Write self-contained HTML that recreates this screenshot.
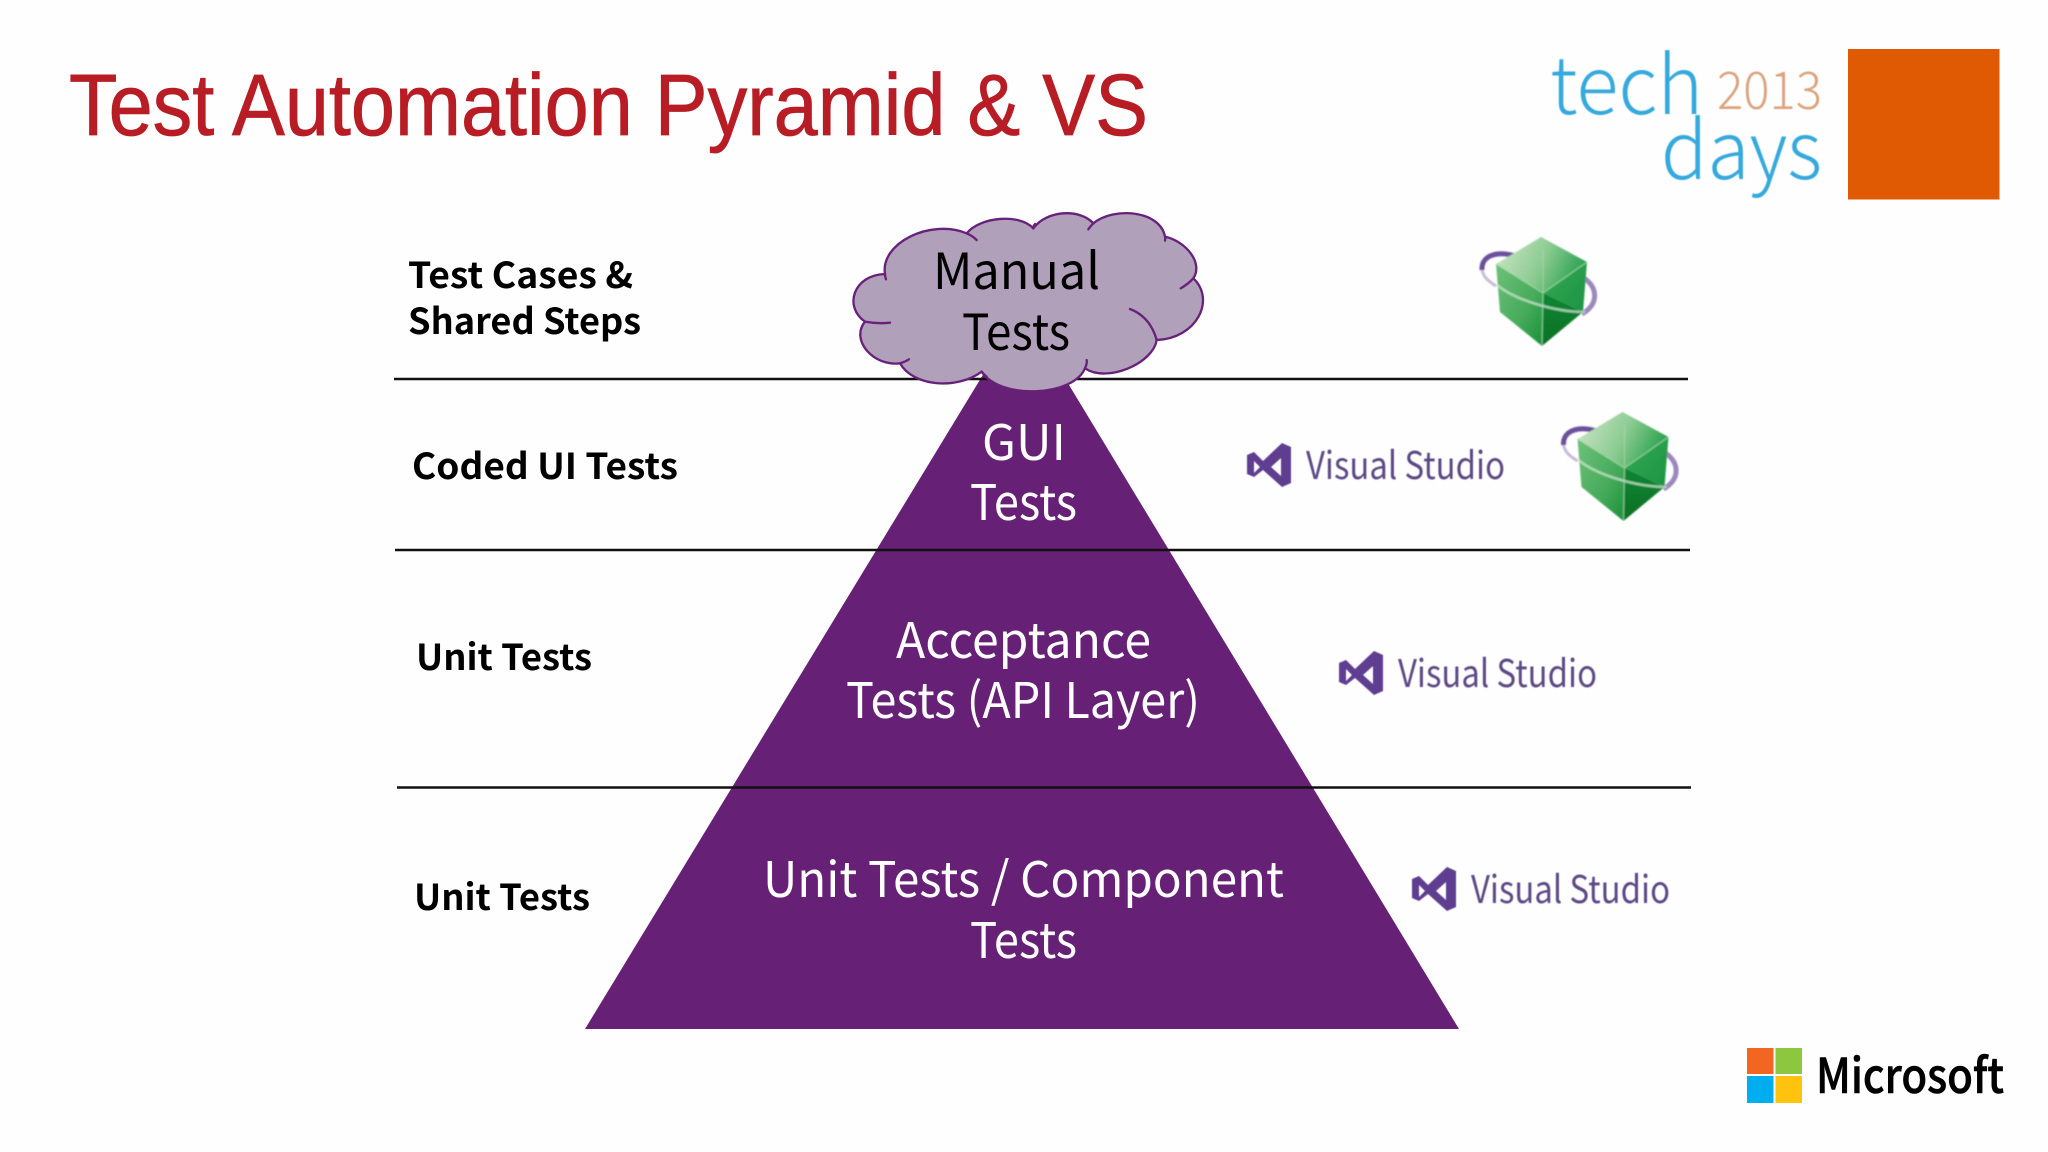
<!DOCTYPE html>
<html><head><meta charset="utf-8"><style>
html,body{margin:0;padding:0;background:#fefefe}
svg{display:block}
.n{font-family:"Noto Sans CJK JP","Liberation Sans",sans-serif}
.b{font-family:"Noto Sans CJK JP","Liberation Sans",sans-serif;font-weight:700;font-size:36px;fill:#000}
.w{font-family:"Noto Sans CJK JP","Liberation Sans",sans-serif;font-size:49px;fill:#fff;font-weight:400}
.vs{font-family:"Noto Sans CJK JP","Liberation Sans",sans-serif;font-size:38px;fill:#5d4a85;font-weight:400}
</style></head><body>
<svg width="2048" height="1152" viewBox="0 0 2048 1152" xmlns="http://www.w3.org/2000/svg">
<defs>
<filter id="bl" x="-10%" y="-10%" width="120%" height="120%"><feGaussianBlur stdDeviation="0.7"/></filter>
<filter id="bs" x="-10%" y="-10%" width="120%" height="120%"><feGaussianBlur stdDeviation="0.4"/></filter>
<linearGradient id="gt" x1="0" y1="0.3" x2="1" y2="0.6"><stop offset="0" stop-color="#c8e4c2"/><stop offset=".5" stop-color="#8ccb92"/><stop offset="1" stop-color="#1f9d48"/></linearGradient>
<linearGradient id="gl" x1="0" y1="0" x2="1" y2="1"><stop offset="0" stop-color="#6fc07a"/><stop offset=".6" stop-color="#46ab5a"/><stop offset="1" stop-color="#189039"/></linearGradient>
<linearGradient id="gr" x1="0" y1="0" x2="1" y2="1"><stop offset="0" stop-color="#35a955"/><stop offset="1" stop-color="#1a9442"/></linearGradient>
<linearGradient id="gd" x1="0" y1="0" x2="0" y2="1"><stop offset="0" stop-color="#118636"/><stop offset="1" stop-color="#066f22"/></linearGradient>
<g id="cube" filter="url(#bl)">
<path d="M1482,268 C1482,276 1488,281 1496,286" fill="none" stroke="#c8bada" stroke-width="3"/>
<path d="M1518,257 C1498,250 1481,255 1482,270" fill="none" stroke="#6b4f9a" stroke-width="5"/>
<path d="M1584,278 C1598,288 1599,304 1582,314" fill="none" stroke="#9c87bd" stroke-width="5"/>
<polygon points="1541,237 1587,262 1543,293 1496,264" fill="url(#gt)"/>
<polygon points="1496,264 1543,293 1542,346 1500,312" fill="url(#gl)"/>
<polygon points="1543,293 1587,262 1583,312" fill="url(#gr)"/>
<polygon points="1543,293 1583,312 1542,346" fill="url(#gd)"/>
<path d="M1543,293 L1543,250" stroke="#b7dfb8" stroke-width="1" opacity=".6"/>
<path d="M1543,293 L1587,262 M1543,293 L1496,264 M1543,293 L1542,346" stroke="#a5dcaa" stroke-width="1.300" opacity=".7" fill="none"/>
<path d="M1497,285 C1515,300 1555,312 1585,312" fill="none" stroke="#c7e6cc" stroke-width="2.500" opacity=".75"/>
</g>
<g id="vs" filter="url(#bs)">
<path fill-rule="evenodd" fill="#5f3c90" d="M1374,651 L1383,655 L1383,691 L1374,695 L1355,678 L1346,685 L1339,682 L1339,663 L1346,660 L1355,669 Z M1346,669 L1346,681 L1352,675 Z M1373,666 L1363,675 L1373,684 Z"/>
<text class="vs" x="1398" y="687" textLength="199" lengthAdjust="spacingAndGlyphs">Visual Studio</text>
</g>
</defs>
<rect width="2048" height="1152" fill="#fefefe"/>

<text x="69" y="135" font-family="'Liberation Sans',sans-serif" font-size="87" fill="#b81c24" stroke="#b81c24" stroke-width=".8" textLength="1079" lengthAdjust="spacingAndGlyphs">Test Automation Pyramid &amp; VS</text>

<g filter="url(#bs)">
<text class="n" x="1550" y="114" font-size="80" font-weight="300" fill="#36a9dc" textLength="153" lengthAdjust="spacingAndGlyphs">tech</text>
<text class="n" x="1717" y="109" font-size="52" font-weight="300" fill="#dca27c" textLength="105" lengthAdjust="spacingAndGlyphs">2013</text>
<text class="n" x="1661" y="179" font-size="80" font-weight="300" fill="#36a9dc" textLength="161" lengthAdjust="spacingAndGlyphs">days</text>
</g>
<rect x="1848" y="49" width="151.500" height="150.500" fill="#df5a02"/>

<polygon points="1023,309 1459,1029 585,1029" fill="#662076"/>

<g stroke="#111" stroke-width="2.500">
<line x1="394" y1="379" x2="1688" y2="379"/>
<line x1="395" y1="550" x2="1690" y2="550"/>
<line x1="397" y1="787.500" x2="1691" y2="787.500"/>
</g>

<g transform="translate(830,200) scale(.33333)">
<path fill="#b1a0b9" stroke="#68217a" stroke-width="7" stroke-linejoin="round" d="M165,222 C150,130 300,55 410,100 C450,50 570,40 610,85 C650,30 750,25 790,70 C850,20 990,30 1005,110 C1070,125 1120,190 1090,235 C1158,300 1100,415 980,420 C970,490 830,550 765,505 C730,590 510,600 455,515 C380,570 250,560 210,490 C130,500 60,420 105,365 C40,320 70,225 165,222 Z"/>
<g fill="none" stroke="#68217a" stroke-width="7" stroke-linecap="round">
<path d="M410,100 Q428,108 440,120"/><path d="M610,85 Q610,78 615,72"/><path d="M790,70 Q782,78 775,88"/>
<path d="M1005,110 Q1007,116 1005,122"/><path d="M1090,235 Q1075,252 1052,265"/>
<path d="M900,327 Q960,350 980,420"/><path d="M765,505 Q772,490 770,480"/><path d="M455,515 Q462,524 470,530"/>
<path d="M210,490 Q225,486 237,478"/><path d="M105,365 Q140,372 180,368"/><path d="M165,222 Q165,230 168,238"/>
</g>
</g>
<text class="n" x="933" y="289" font-size="50" font-weight="400" fill="#000" textLength="167" lengthAdjust="spacingAndGlyphs">Manual</text>
<text class="n" x="962" y="350" font-size="50" font-weight="400" fill="#000" textLength="108" lengthAdjust="spacingAndGlyphs">Tests</text>

<text class="w" x="982" y="460" textLength="84" lengthAdjust="spacingAndGlyphs">GUI</text>
<text class="w" x="970" y="520" textLength="107" lengthAdjust="spacingAndGlyphs">Tests</text>
<text class="w" x="896" y="658" textLength="255" lengthAdjust="spacingAndGlyphs">Acceptance</text>
<text class="w" x="846" y="718" textLength="354" lengthAdjust="spacingAndGlyphs">Tests (API Layer)</text>
<text class="w" x="763" y="897" textLength="521" lengthAdjust="spacingAndGlyphs">Unit Tests / Component</text>
<text class="w" x="970" y="958" textLength="107" lengthAdjust="spacingAndGlyphs">Tests</text>

<text class="b" x="408" y="288" textLength="225" lengthAdjust="spacingAndGlyphs">Test Cases &amp;</text>
<text class="b" x="408" y="334" textLength="233" lengthAdjust="spacingAndGlyphs">Shared Steps</text>
<text class="b" x="412" y="479" textLength="266" lengthAdjust="spacingAndGlyphs">Coded UI Tests</text>
<text class="b" x="416" y="670" textLength="176" lengthAdjust="spacingAndGlyphs">Unit Tests</text>
<text class="b" x="414" y="910" textLength="176" lengthAdjust="spacingAndGlyphs">Unit Tests</text>

<use href="#cube"/>
<use href="#cube" transform="translate(81.500,175)"/>
<use href="#vs"/>
<use href="#vs" transform="translate(73,216)"/>
<use href="#vs" transform="translate(-92,-208)"/>

<rect x="1747" y="1048" width="26.500" height="26" fill="#f26522"/>
<rect x="1775.500" y="1048" width="26.500" height="26" fill="#8dc63f"/>
<rect x="1747" y="1076" width="26.500" height="27" fill="#00aeef"/>
<rect x="1775.500" y="1076" width="26.500" height="27" fill="#ffc20e"/>
<text class="n" x="1816" y="1093" font-size="48" font-weight="500" fill="#000" stroke="#000" stroke-width=".6" textLength="188" lengthAdjust="spacingAndGlyphs">Microsoft</text>
</svg>
</body></html>
